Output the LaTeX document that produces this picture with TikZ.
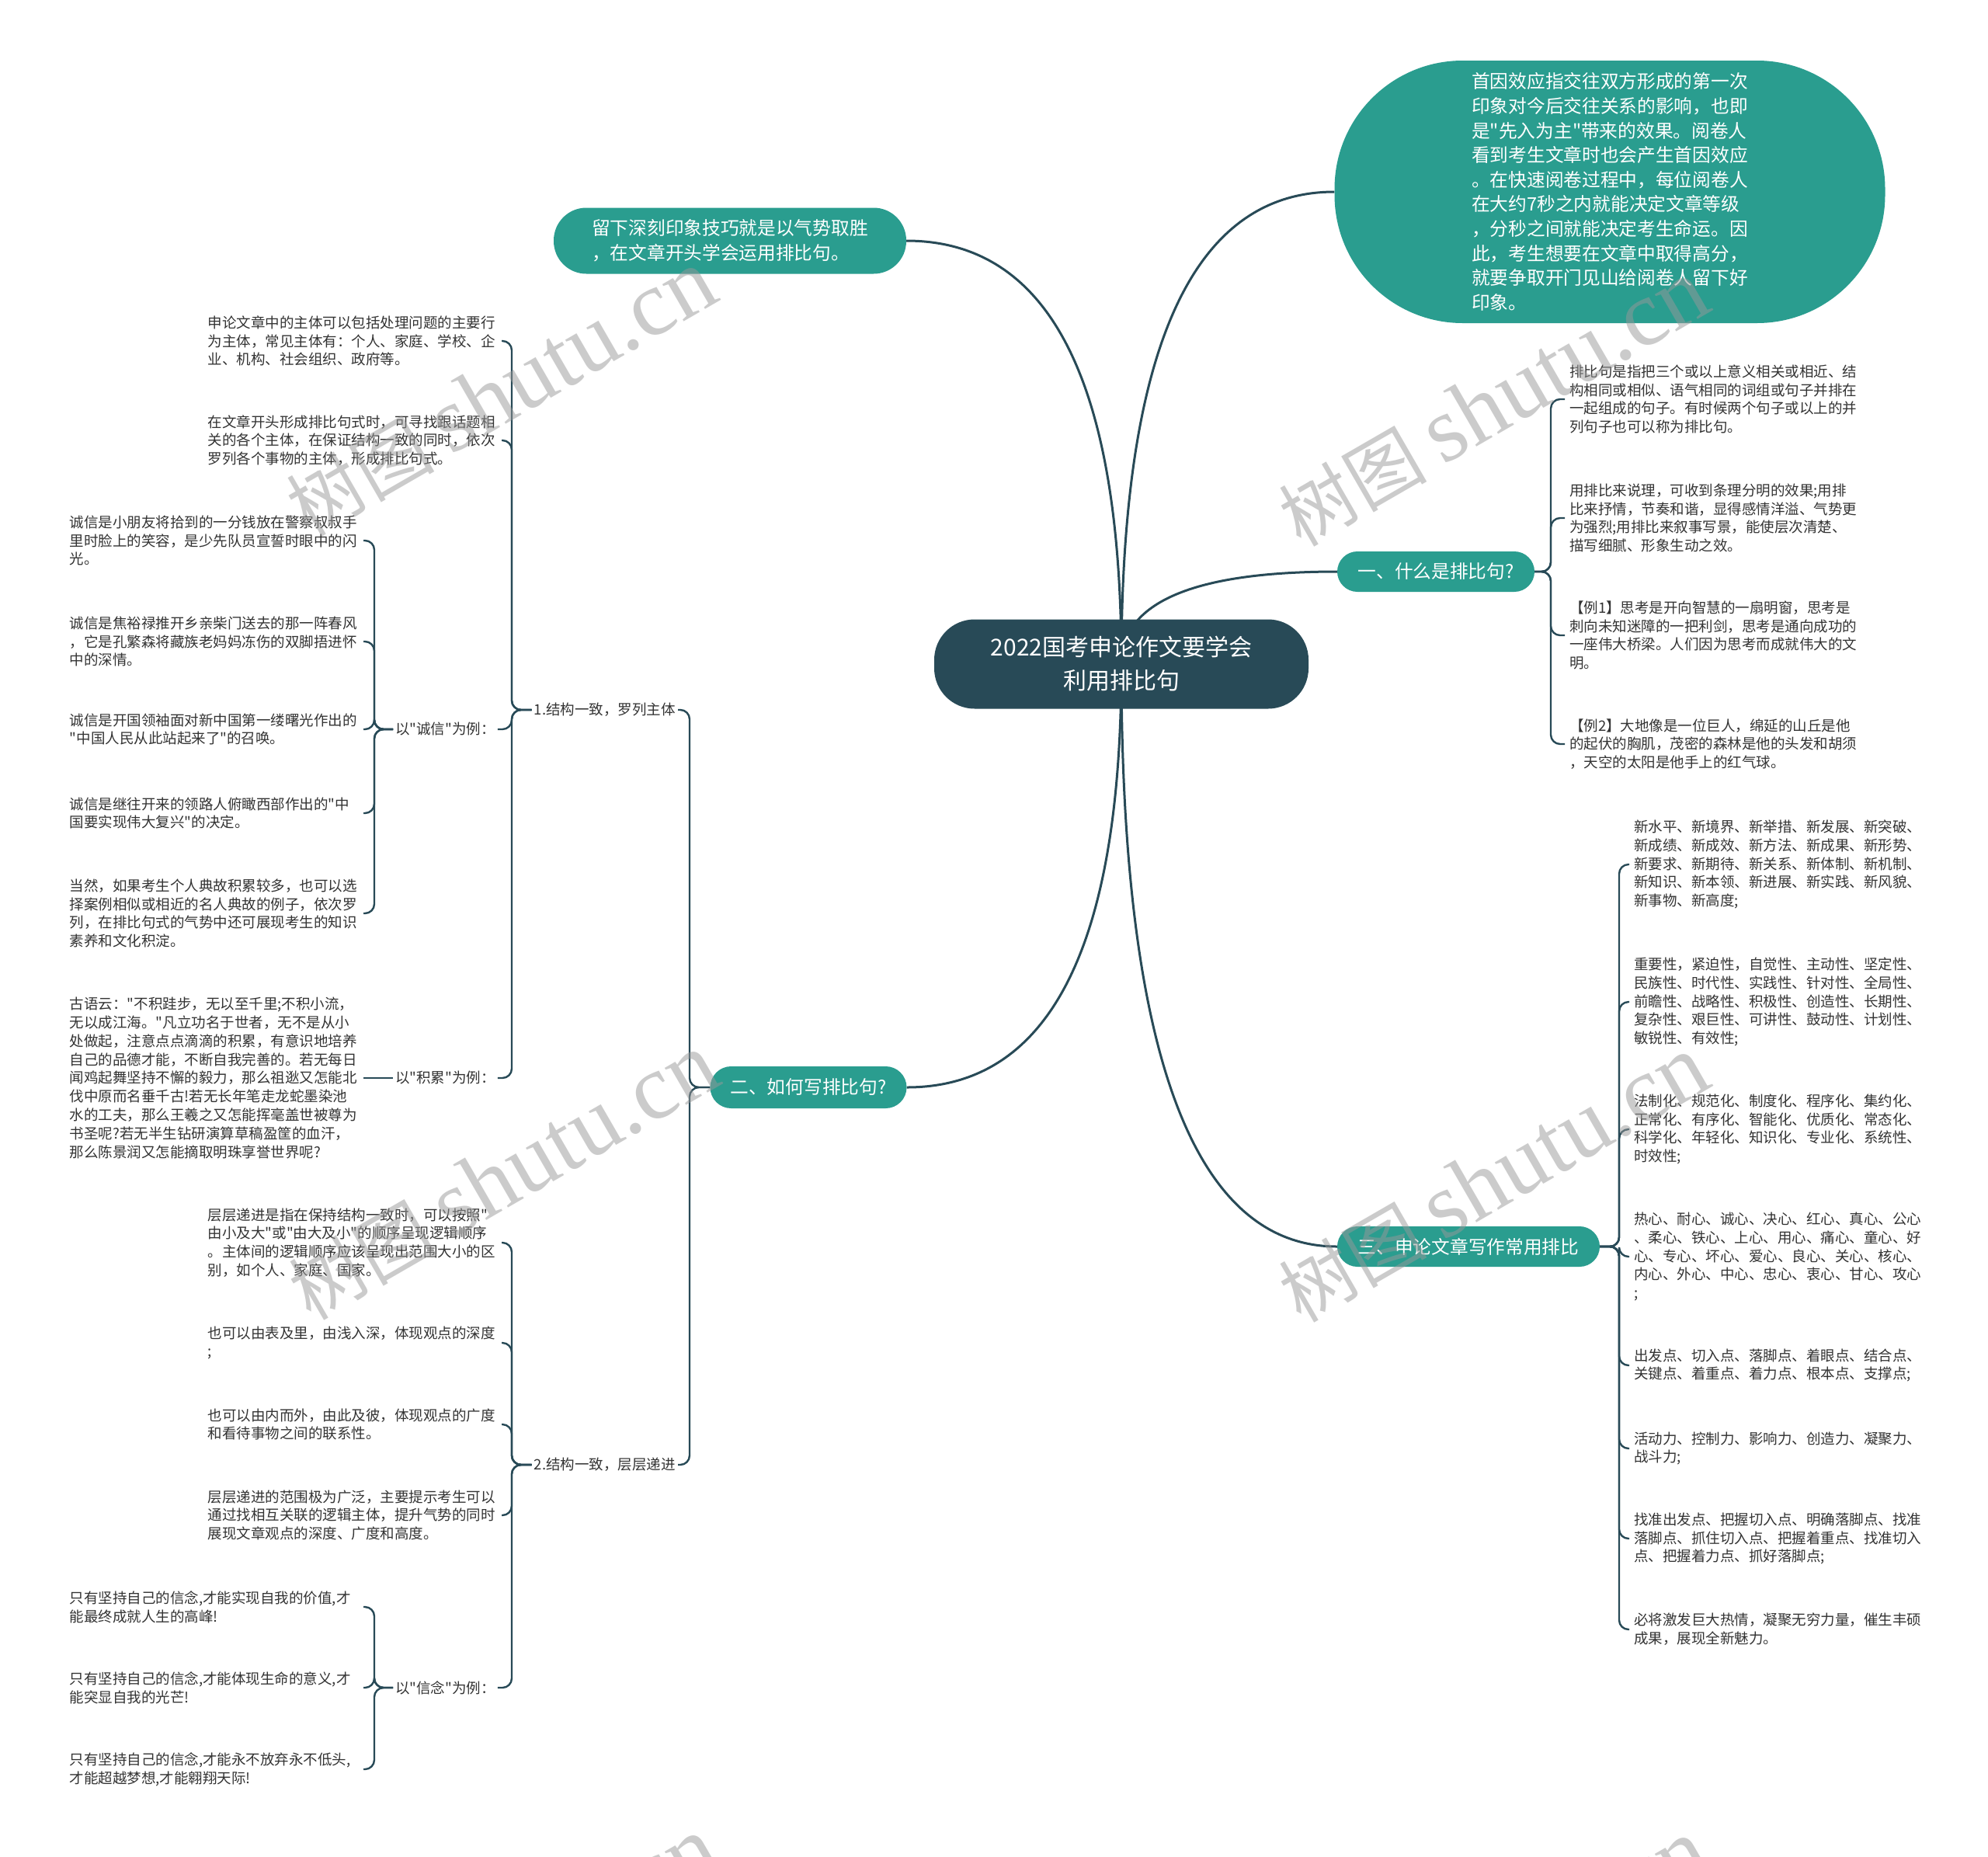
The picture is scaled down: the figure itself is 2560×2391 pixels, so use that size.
\documentclass[tikz,border=0pt]{standalone}
\usepackage{fontspec}
\setmainfont{Noto Sans CJK SC}[Ligatures=TeXOff]
\newfontfamily\wmfont{Liberation Serif}
\usetikzlibrary{calc}
\definecolor{teal1}{HTML}{2A9D8F}
\definecolor{dark1}{HTML}{284A57}
\definecolor{leaftext}{HTML}{333333}
\pgfdeclarelayer{back}
\pgfdeclarelayer{lines}
\pgfsetlayers{back,lines,main}
\tikzset{
  mainnode/.style={fill=teal1, text=white, inner sep=0pt, font=\fontsize{23.7}{31.6}\selectfont},
  rootnode/.style={fill=dark1, text=white, inner sep=0pt, font=\fontsize{30}{43}\selectfont},
  leaf/.style={text=leaftext, font=\fontsize{18.5}{23.8}\selectfont, text width=372pt, align=left, inner xsep=6pt, inner ysep=2pt},
  lab/.style={text=leaftext, font=\fontsize{18.5}{23.8}\selectfont, inner xsep=3pt, inner ysep=2pt},
  mline/.style={draw=dark1, line width=3pt},
  bline/.style={draw=dark1, line width=2.4pt, rounded corners=12pt},
  wm/.style={text=black!40, text opacity=0.5, rotate=30, inner sep=0pt, font=\fontsize{95}{100}\selectfont}
}
\begin{document}
\begin{tikzpicture}[x=1pt,y=-1pt]
\begin{pgfonlayer}{back}
\fill[white] (0,0) rectangle (2560,2391);
\end{pgfonlayer}
\useasboundingbox (0,0) rectangle (2560,2391);

% ---------- main nodes ----------
\node[rootnode, minimum width=482pt, minimum height=115pt, rounded corners=52pt, align=center] (root) at (1444,855) {2022国考申论作文要学会\\利用排比句};

\node[mainnode, minimum width=709pt, minimum height=338pt, rounded corners=165pt, align=left] (big) at (2073,247) {首因效应指交往双方形成的第一次\\印象对今后交往关系的影响，也即\\是"先入为主"带来的效果。阅卷人\\看到考生文章时也会产生首因效应\\。在快速阅卷过程中，每位阅卷人\\在大约7秒之内就能决定文章等级\\，分秒之间就能决定考生命运。因\\此，考生想要在文章中取得高分，\\就要争取开门见山给阅卷人留下好\\印象。};

\node[mainnode, minimum width=454pt, minimum height=85pt, rounded corners=42pt, align=left] (liu) at (940,310) {留下深刻印象技巧就是以气势取胜\\，在文章开头学会运用排比句。};

\node[mainnode, minimum width=254pt, minimum height=52pt, rounded corners=26pt] (n1) at (1849,736) {一、什么是排比句?};
\node[mainnode, minimum width=253pt, minimum height=54pt, rounded corners=27pt] (n2) at (1041,1400) {二、如何写排比句?};
\node[mainnode, minimum width=338pt, minimum height=52pt, rounded corners=26pt] (n3) at (1891,1605) {三、申论文章写作常用排比};

% ---------- branch 1 leaves ----------
\node[leaf, anchor=west] (r1) at (2015,514) {排比句是指把三个或以上意义相关或相近、结\\构相同或相似、语气相同的词组或句子并排在\\一起组成的句子。有时候两个句子或以上的并\\列句子也可以称为排比句。};
\node[leaf, anchor=west] (r2) at (2015,667) {用排比来说理，可收到条理分明的效果;用排\\比来抒情，节奏和谐，显得感情洋溢、气势更\\为强烈;用排比来叙事写景，能使层次清楚、\\描写细腻、形象生动之效。};
\node[leaf, anchor=west] (r3) at (2015,818) {【例1】思考是开向智慧的一扇明窗，思考是\\刺向未知迷障的一把利剑，思考是通向成功的\\一座伟大桥梁。人们因为思考而成就伟大的文\\明。};
\node[leaf, anchor=west] (r4) at (2015,958) {【例2】大地像是一位巨人，绵延的山丘是他\\的起伏的胸肌，茂密的森林是他的头发和胡须\\，天空的太阳是他手上的红气球。};

% ---------- branch 3 leaves ----------
\node[leaf, anchor=west] (t1) at (2098,1113) {新水平、新境界、新举措、新发展、新突破、\\新成绩、新成效、新方法、新成果、新形势、\\新要求、新期待、新关系、新体制、新机制、\\新知识、新本领、新进展、新实践、新风貌、\\新事物、新高度;};
\node[leaf, anchor=west] (t2) at (2098,1290) {重要性，紧迫性，自觉性、主动性、坚定性、\\民族性、时代性、实践性、针对性、全局性、\\前瞻性、战略性、积极性、创造性、长期性、\\复杂性、艰巨性、可讲性、鼓动性、计划性、\\敏锐性、有效性;};
\node[leaf, anchor=west] (t3) at (2098,1454) {法制化、规范化、制度化、程序化、集约化、\\正常化、有序化、智能化、优质化、常态化、\\科学化、年轻化、知识化、专业化、系统性、\\时效性;};
\node[leaf, anchor=west] (t4) at (2098,1618) {热心、耐心、诚心、决心、红心、真心、公心\\、柔心、铁心、上心、用心、痛心、童心、好\\心、专心、坏心、爱心、良心、关心、核心、\\内心、外心、中心、忠心、衷心、甘心、攻心\\;};
\node[leaf, anchor=west] (t5) at (2098,1758) {出发点、切入点、落脚点、着眼点、结合点、\\关键点、着重点、着力点、根本点、支撑点;};
\node[leaf, anchor=west] (t6) at (2098,1865) {活动力、控制力、影响力、创造力、凝聚力、\\战斗力;};
\node[leaf, anchor=west] (t7) at (2098,1981) {找准出发点、把握切入点、明确落脚点、找准\\落脚点、抓住切入点、把握着重点、找准切入\\点、把握着力点、抓好落脚点;};
\node[leaf, anchor=west] (t8) at (2098,2098) {必将激发巨大热情，凝聚无穷力量，催生丰硕\\成果，展现全新魅力。};

% ---------- branch 2 labels ----------
\node[lab, anchor=east] (lab1) at (873,914) {1.结构一致，罗列主体};
\node[lab, anchor=east] (lab2) at (873,1886) {2.结构一致，层层递进};
\node[lab, anchor=west] (labA) at (506,939) {以"诚信"为例：};
\node[lab, anchor=west] (labB) at (506,1388) {以"积累"为例：};
\node[lab, anchor=west] (labC) at (506,2173) {以"信念"为例：};

% ---------- branch 2 leaves ----------
\node[leaf, anchor=east] (l1) at (646,439) {申论文章中的主体可以包括处理问题的主要行\\为主体，常见主体有：个人、家庭、学校、企\\业、机构、社会组织、政府等。};
\node[leaf, anchor=east] (l2) at (646,567) {在文章开头形成排比句式时，可寻找跟话题相\\关的各个主体，在保证结构一致的同时，依次\\罗列各个事物的主体，形成排比句式。};

\node[leaf, anchor=east] (za) at (468,696) {诚信是小朋友将拾到的一分钱放在警察叔叔手\\里时脸上的笑容，是少先队员宣誓时眼中的闪\\光。};
\node[leaf, anchor=east] (zb) at (468,826) {诚信是焦裕禄推开乡亲柴门送去的那一阵春风\\，它是孔繁森将藏族老妈妈冻伤的双脚捂进怀\\中的深情。};
\node[leaf, anchor=east] (zc) at (468,939) {诚信是开国领袖面对新中国第一缕曙光作出的\\"中国人民从此站起来了"的召唤。};
\node[leaf, anchor=east] (zd) at (468,1047) {诚信是继往开来的领路人俯瞰西部作出的"中\\国要实现伟大复兴"的决定。};
\node[leaf, anchor=east] (ze) at (468,1176) {当然，如果考生个人典故积累较多，也可以选\\择案例相似或相近的名人典故的例子，依次罗\\列，在排比句式的气势中还可展现考生的知识\\素养和文化积淀。};

\node[leaf, anchor=east] (gu) at (468,1388) {古语云："不积跬步，无以至千里;不积小流，\\无以成江海。"凡立功名于世者，无不是从小\\处做起，注意点点滴滴的积累，有意识地培养\\自己的品德才能，不断自我完善的。若无每日\\闻鸡起舞坚持不懈的毅力，那么祖逖又怎能北\\伐中原而名垂千古!若无长年笔走龙蛇墨染池\\水的工夫，那么王羲之又怎能挥毫盖世被尊为\\书圣呢?若无半生钻研演算草稿盈筐的血汗，\\那么陈景润又怎能摘取明珠享誉世界呢?};

\node[leaf, anchor=east] (ca) at (646,1600) {层层递进是指在保持结构一致时，可以按照"\\由小及大"或"由大及小"的顺序呈现逻辑顺序\\。主体间的逻辑顺序应该呈现出范围大小的区\\别，如个人、家庭、国家。};
\node[leaf, anchor=east] (cb) at (646,1729) {也可以由表及里，由浅入深，体现观点的深度\\;};
\node[leaf, anchor=east] (cc) at (646,1834) {也可以由内而外，由此及彼，体现观点的广度\\和看待事物之间的联系性。};
\node[leaf, anchor=east] (cd) at (646,1951) {层层递进的范围极为广泛，主要提示考生可以\\通过找相互关联的逻辑主体，提升气势的同时\\展现文章观点的深度、广度和高度。};

\node[leaf, anchor=east] (xa) at (468,2069) {只有坚持自己的信念,才能实现自我的价值,才\\能最终成就人生的高峰!};
\node[leaf, anchor=east] (xb) at (468,2173) {只有坚持自己的信念,才能体现生命的意义,才\\能突显自我的光芒!};
\node[leaf, anchor=east] (xc) at (468,2278) {只有坚持自己的信念,才能永不放弃永不低头,\\才能超越梦想,才能翱翔天际!};

% ---------- connectors ----------
\begin{pgfonlayer}{lines}
\coordinate (cBig) at (root.center |- big.west);
\coordinate (cLiu) at (root.center |- liu.east);
\coordinate (cN1) at (root.center |- n1.west);
\coordinate (cN2) at (root.center |- n2.east);
\coordinate (cN3) at (root.center |- n3.west);
\draw[mline] (root.center) .. controls ($(root.center)!0.667!(cBig)$) and ($(big.west)!0.667!(cBig)$) .. (big.west);
\draw[mline] (root.center) .. controls ($(root.center)!0.667!(cLiu)$) and ($(liu.east)!0.667!(cLiu)$) .. (liu.east);
\draw[mline] (root.center) .. controls ($(root.center)!0.667!(cN1)$) and ($(n1.west)!0.667!(cN1)$) .. (n1.west);
\draw[mline] (root.center) .. controls ($(root.center)!0.667!(cN2)$) and ($(n2.east)!0.667!(cN2)$) .. (n2.east);
\draw[mline] (root.center) .. controls ($(root.center)!0.667!(cN3)$) and ($(n3.west)!0.667!(cN3)$) .. (n3.west);

\coordinate (s1) at (1997,736);
\foreach \t in {r1,r2,r3,r4} \draw[bline] (n1.east) -- (s1) |- (\t.west);
\coordinate (s3) at (2085,1605);
\foreach \t in {t1,t2,t3,t4,t5,t6,t7,t8} \draw[bline] (n3.east) -- (s3) |- (\t.west);
\coordinate (s2) at (888,1400);
\foreach \t in {lab1,lab2} \draw[bline] (n2.west) -- (s2) |- (\t.east);
\coordinate (s21) at (659,914);
\foreach \t in {l1,l2,labA,labB} \draw[bline] (lab1.west) -- (s21) |- (\t.east);
\coordinate (sA) at (482,939);
\foreach \t in {za,zb,zc,zd,ze} \draw[bline] (labA.west) -- (sA) |- (\t.east);
\draw[bline] (labB.west) -- (gu.east);
\coordinate (s22) at (659,1886);
\foreach \t in {ca,cb,cc,cd,labC} \draw[bline] (lab2.west) -- (s22) |- (\t.east);
\coordinate (sC) at (482,2173);
\foreach \t in {xa,xb,xc} \draw[bline] (labC.west) -- (sC) |- (\t.east);
\end{pgfonlayer}

% ---------- watermarks ----------
\node[wm] (wm1) at (645,506) {树图 {\wmfont\fontsize{120}{120}\selectfont shutu.cn}};
\node[wm] (wm2) at (1923,519) {树图 {\wmfont\fontsize{120}{120}\selectfont shutu.cn}};
\node[wm] (wm3) at (648,1515) {树图 {\wmfont\fontsize{120}{120}\selectfont shutu.cn}};
\node[wm] (wm4) at (1923,1518) {树图 {\wmfont\fontsize{120}{120}\selectfont shutu.cn}};
\node[wm] (wm5) at (648,2524) {树图 {\wmfont\fontsize{120}{120}\selectfont shutu.cn}};
\node[wm] (wm6) at (1923,2527) {树图 {\wmfont\fontsize{120}{120}\selectfont shutu.cn}};
\end{tikzpicture}
\end{document}
